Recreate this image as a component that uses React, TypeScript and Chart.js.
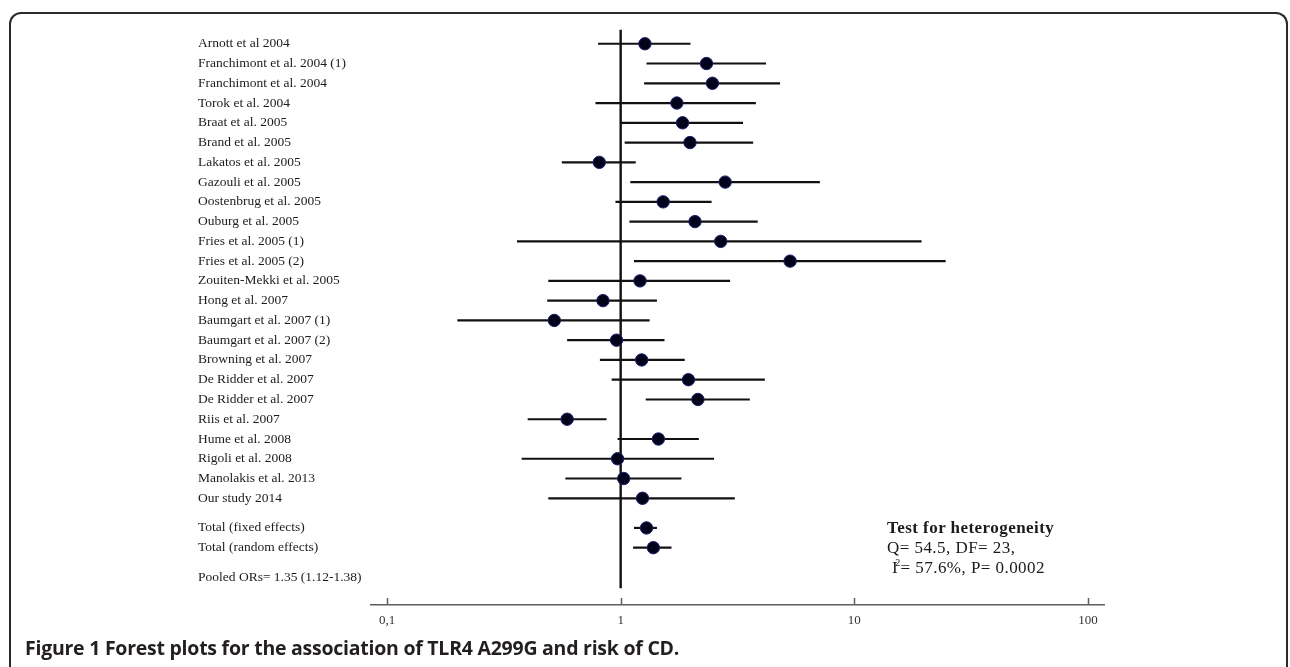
import React, { useEffect, useRef } from "react";
import { Chart, registerables } from "chart.js";

Chart.register(...registerables);

// ---------- data ----------
const studies = [
  "Arnott et al 2004",
  "Franchimont et al. 2004 (1)",
  "Franchimont et al. 2004",
  "Torok et al. 2004",
  "Braat et al. 2005",
  "Brand et al. 2005",
  "Lakatos et al. 2005",
  "Gazouli et al. 2005",
  "Oostenbrug et al. 2005",
  "Ouburg et al. 2005",
  "Fries et al. 2005 (1)",
  "Fries et al. 2005 (2)",
  "Zouiten-Mekki et al. 2005",
  "Hong et al. 2007",
  "Baumgart et al. 2007 (1)",
  "Baumgart et al. 2007 (2)",
  "Browning et al. 2007",
  "De Ridder et al. 2007",
  "De Ridder et al. 2007",
  "Riis et al. 2007",
  "Hume et al. 2008",
  "Rigoli et al. 2008",
  "Manolakis et al. 2013",
  "Our study 2014",
  "Total (fixed effects)",
  "Total (random effects)",
];

const oddsRatios = [
  1.27, 2.33, 2.47, 1.74, 1.84, 1.98, 0.81, 2.8, 1.52, 2.08, 2.68, 5.31,
  1.21, 0.84, 0.52, 0.96, 1.23, 1.95, 2.14, 0.59, 1.45, 0.97, 1.03, 1.24,
  1.29, 1.38,
];

const lowerCI = [
  0.8, 1.29, 1.26, 0.78, 1.0, 1.04, 0.56, 1.1, 0.95, 1.09, 0.36, 1.14,
  0.49, 0.485, 0.2, 0.59, 0.815, 0.915, 1.28, 0.4, 0.97, 0.377, 0.58, 0.49,
  1.14, 1.13,
];

const upperCI = [
  1.99, 4.19, 4.81, 3.79, 3.34, 3.69, 1.16, 7.12, 2.45, 3.86, 19.4, 24.6,
  2.94, 1.43, 1.33, 1.54, 1.88, 4.14, 3.57, 0.87, 2.16, 2.51, 1.82, 3.08,
  1.43, 1.65,
];

// vertical row positions (row units); totals are separated by a gap
const rowPositions = [
  0, 1, 2, 3, 4, 5, 6, 7, 8, 9, 10, 11, 12, 13, 14, 15, 16, 17, 18, 19, 20,
  21, 22, 23, 24.5, 25.5,
];

const pooledLabel = "Pooled ORs= 1.35 (1.12-1.38)";
const pooledRow = 27;

const xTickValues = [0.1, 1, 10, 100];
const xTickLabels = ["0,1", "1", "10", "100"];

const nullEffect = 1;
const refLineRange = [-0.71, 27.55];

const heterogeneityTitle = "Test for heterogeneity";
const heterogeneityLine1 = "Q= 54.5, DF= 23,";
const heterogeneityLine2a = "= 57.6%, P= 0.0002";

const caption = "Forest plots for the association of TLR4 A299G and risk of CD.";

// ---------- component ----------
const serif = "'Liberation Serif', 'Times New Roman', serif";

export default function App() {
  const canvasRef = useRef<HTMLCanvasElement | null>(null);

  useEffect(() => {
    const canvas = canvasRef.current;
    if (!canvas) return;

    const yTickValues = [...rowPositions, pooledRow];
    const yTickLabels = [...studies, pooledLabel];

    const ciDatasets = studies.map((_, i) => ({
      type: "scatter" as const,
      data: [
        { x: lowerCI[i], y: rowPositions[i] },
        { x: upperCI[i], y: rowPositions[i] },
      ],
      showLine: true,
      borderColor: "#111111",
      borderWidth: 2.2,
      pointRadius: 0,
      order: 2,
    }));

    const refLine = {
      type: "scatter" as const,
      data: [
        { x: nullEffect, y: refLineRange[0] },
        { x: nullEffect, y: refLineRange[1] },
      ],
      showLine: true,
      borderColor: "#111111",
      borderWidth: 2.4,
      pointRadius: 0,
      order: 3,
    };

    const points = {
      type: "scatter" as const,
      data: studies.map((_, i) => ({ x: oddsRatios[i], y: rowPositions[i] })),
      pointRadius: 6.2,
      pointBackgroundColor: "#02021a",
      pointBorderColor: "#1d1d6e",
      pointBorderWidth: 1,
      showLine: false,
      order: 0,
    };

    const upTicks = {
      id: "upTicks",
      afterDatasetsDraw(chart: any) {
        const xs = chart.scales.x;
        const ctx = chart.ctx;
        const bottom = chart.chartArea.bottom;
        ctx.save();
        ctx.strokeStyle = "#5e5e5e";
        ctx.lineWidth = 1.5;
        xTickValues.forEach((v) => {
          const px = Math.round(xs.getPixelForValue(v)) + 0.5;
          ctx.beginPath();
          ctx.moveTo(px, bottom);
          ctx.lineTo(px, bottom - 7);
          ctx.stroke();
        });
        ctx.restore();
      },
    };

    const chart = new Chart(canvas, {
      type: "scatter",
      data: { datasets: [points, ...ciDatasets, refLine] as any },
      options: {
        animation: false,
        responsive: false,
        maintainAspectRatio: false,
        events: [],
        layout: { padding: { left: 198, right: 186, top: 24, bottom: 32 } },
        plugins: {
          legend: { display: false },
          tooltip: { enabled: false },
        },
        scales: {
          x: {
            type: "logarithmic",
            position: "bottom",
            min: Math.pow(10, -1.0685),
            max: Math.pow(10, 2.0685),
            afterBuildTicks: (s: any) => {
              s.ticks = xTickValues.map((v) => ({ value: v }));
            },
            afterFit: (s: any) => {
              s.height = 30;
            },
            grid: { display: false, drawOnChartArea: false, drawTicks: false },
            border: { display: true, color: "#5e5e5e", width: 1.5 },
            ticks: {
              autoSkip: false,
              maxRotation: 0,
              padding: 8,
              color: "#333333",
              font: { family: serif, size: 13 },
              callback: (_v: any, i: number) => xTickLabels[i],
            },
          },
          y: {
            type: "linear",
            reverse: true,
            min: -1,
            max: 28.4,
            afterBuildTicks: (s: any) => {
              s.ticks = yTickValues.map((v) => ({ value: v }));
            },
            afterFit: (s: any) => {
              s.width = 173;
            },
            grid: { display: false },
            border: { display: false },
            ticks: {
              autoSkip: false,
              crossAlign: "far",
              padding: 0,
              color: "#1c1c1c",
              font: { family: serif, size: 13.5 },
              callback: (_v: any, i: number) => yTickLabels[i],
            },
          },
        },
      },
      plugins: [upTicks],
    });

    return () => chart.destroy();
  }, []);

  return (
    <div
      style={{
        position: "fixed",
        left: 0,
        top: 0,
        width: 1290,
        height: 667,
        background: "#ffffff",
        overflow: "hidden",
      }}
    >
      <div
        style={{
          position: "absolute",
          left: 9,
          top: 12,
          width: 1279,
          height: 720,
          border: "2px solid #2a2a2a",
          borderBottom: "none",
          borderRadius: "12px 12px 0 0",
          boxSizing: "border-box",
        }}
      />
      <canvas
        ref={canvasRef}
        width={1290}
        height={667}
        style={{ position: "absolute", left: 0, top: 0, width: 1290, height: 667 }}
      />
      <div
        style={{
          position: "absolute",
          left: 887,
          top: 518,
          fontFamily: serif,
          fontSize: 17,
          lineHeight: "20px",
          color: "#1a1a1a",
          whiteSpace: "nowrap",
          letterSpacing: 0.45,
        }}
      >
        <div style={{ fontWeight: "bold" }}>{heterogeneityTitle}</div>
        <div>{heterogeneityLine1}</div>
        <div style={{ paddingLeft: 5 }}>
          I
          <span
            style={{
              fontSize: 10,
              position: "relative",
              top: -7,
              marginLeft: -3,
              marginRight: 0,
            }}
          >
            2
          </span>
          {heterogeneityLine2a}
        </div>
      </div>
      <div
        style={{
          position: "absolute",
          left: 25,
          top: 636,
          fontFamily: "'Open Sans', 'Noto Sans', sans-serif",
          fontSize: 19.5,
          fontWeight: 700,
          letterSpacing: -0.25,
          color: "#231f20",
          whiteSpace: "nowrap",
          lineHeight: "24px",
        }}
      >
        Figure 1 {caption}
      </div>
    </div>
  );
}
